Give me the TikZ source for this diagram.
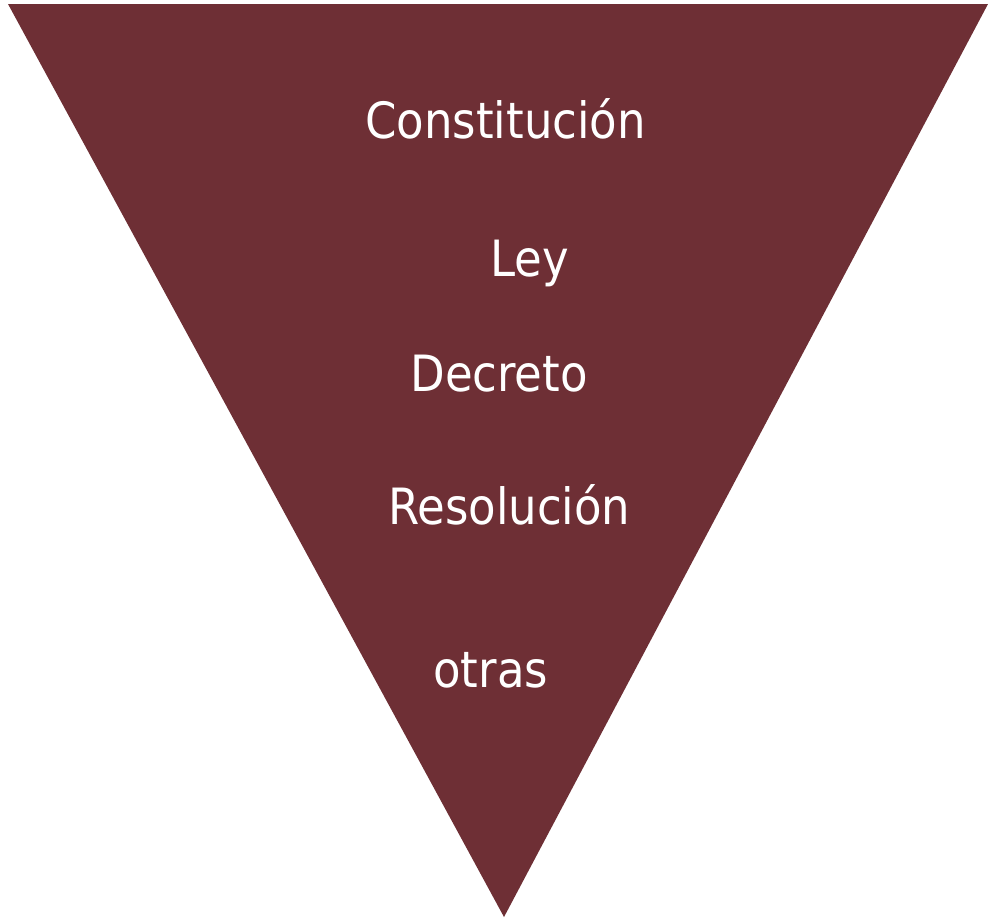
\documentclass[tikz,border=0pt]{standalone}
\usepackage{fontspec}
\setmainfont{DejaVu Sans Condensed}
\definecolor{vino}{HTML}{6E2F35}
\tikzset{nivel/.style={anchor=base west,inner sep=0pt,text=white,font=\fontsize{25}{30}\selectfont}}

\begin{document}
\begin{tikzpicture}[x=0.5pt,y=-0.5pt]
    \useasboundingbox (0,0) rectangle (988,918);
    % piramide invertida
    \coordinate (izq) at (8,4);
    \coordinate (der) at (988,4);
    \coordinate (pie) at (504,917);
    \fill[vino] (izq) -- (der) -- (pie) -- cycle;
    % niveles
    \node[nivel] (constitucion) at (365,138) {Constitución};
    \node[nivel] (ley) at (490,276) {Ley};
    \node[nivel] (decreto) at (410,391) {Decreto};
    \node[nivel] (resolucion) at (388,524) {Resolución};
    \node[nivel] (otras) at (433,687) {otras};
\end{tikzpicture}
\end{document}
